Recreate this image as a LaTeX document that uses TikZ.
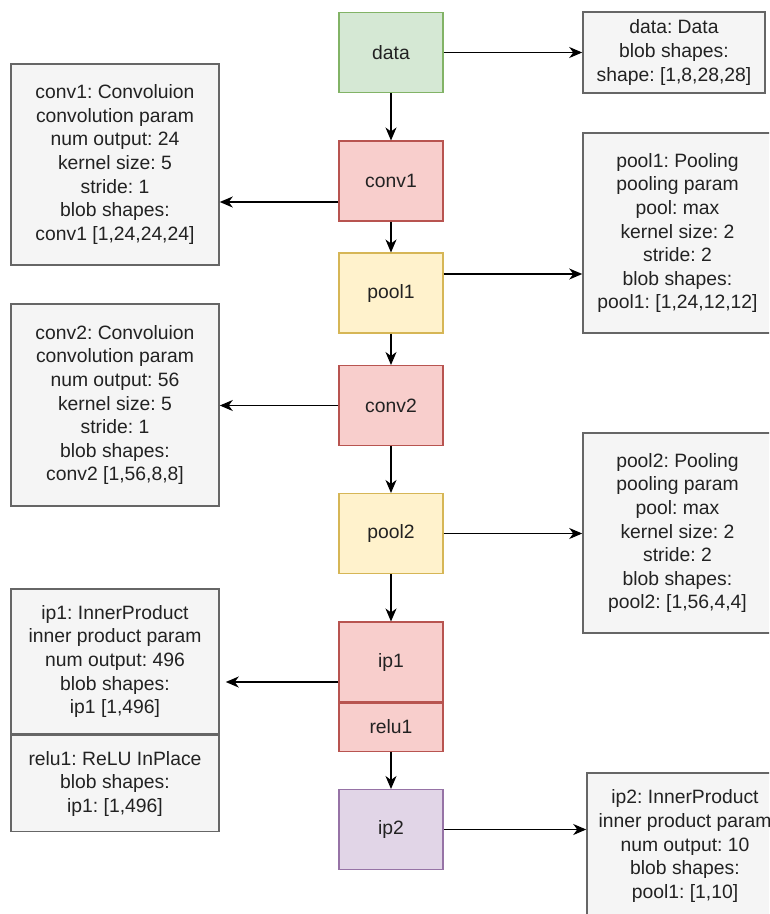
\documentclass[tikz,border=0pt]{standalone}
\usepackage{fontspec}
\setmainfont{Liberation Sans}
\usetikzlibrary{arrows.meta}
\usetikzlibrary{positioning}
\frenchspacing

\definecolor{greenfill}{HTML}{D5E8D4}
\definecolor{greendraw}{HTML}{82B366}
\definecolor{redfill}{HTML}{F8CECC}
\definecolor{reddraw}{HTML}{B85450}
\definecolor{yellowfill}{HTML}{FFF2CC}
\definecolor{yellowdraw}{HTML}{D6B656}
\definecolor{purplefill}{HTML}{E1D5E7}
\definecolor{purpledraw}{HTML}{9673A6}
\definecolor{infofill}{HTML}{F5F5F5}
\definecolor{infodraw}{HTML}{666666}
\definecolor{infotext}{HTML}{222222}

\begin{document}
\begin{tikzpicture}[x=0.02cm,y=-0.02cm,
    font=\fontsize{11}{13.4}\selectfont,
    layer/.style={draw, line width=0.6pt, minimum width=2.08cm, minimum height=1.6cm, inner sep=0pt, text=infotext},
    info/.style={draw=infodraw, fill=infofill, line width=0.9pt, inner sep=0pt, align=center, text=infotext},
    flow/.style={line width=0.7pt, -{Stealth[length=0.26cm,width=0.22cm,inset=0.08cm]}}]
\edef\cx{391}
\edef\lx{115}

\useasboundingbox (0,0) rectangle (769,914);
\clip (0,0) rectangle (769,914);

% the layers
\node[layer, draw=greendraw, fill=greenfill] (data) at (\cx,52.5) {data};
\node[layer, draw=reddraw, fill=redfill] (conv1) at (\cx,181) {conv1};
\node[layer, draw=yellowdraw, fill=yellowfill] (pool1) at (\cx,293) {pool1};
\node[layer, draw=reddraw, fill=redfill] (conv2) at (\cx,405.5) {conv2};
\node[layer, draw=yellowdraw, fill=yellowfill] (pool2) at (\cx,533.5) {pool2};
\node[layer, draw=reddraw, fill=redfill] (ip1) at (\cx,662) {ip1};
\node[layer, draw=reddraw, fill=redfill, minimum height=0.96cm, below=0pt of ip1] (relu1) {relu1};
\node[layer, draw=purpledraw, fill=purplefill] (ip2) at (\cx,829.5) {ip2};

% what each layer holds
\node[info, minimum width=3.64cm, minimum height=1.62cm] (datainfo) at (674,52.5)
{data: Data\\blob shapes:\\shape: [1,8,28,28]};
\node[info, minimum width=4.16cm, minimum height=4.02cm] (conv1info) at (\lx,164.5)
{conv1: Convoluion\\convolution param\\num output: 24\\kernel size: 5\\stride: 1\\blob shapes:\\conv1 [1,24,24,24]};
\node[info, minimum width=3.78cm, minimum height=4cm] (pool1info) at (677.5,233)
{pool1: Pooling\\pooling param\\pool: max\\kernel size: 2\\stride: 2\\blob shapes:\\pool1: [1,24,12,12]};
\node[info, minimum width=4.16cm, minimum height=4.04cm] (conv2info) at (\lx,405)
{conv2: Convoluion\\convolution param\\num output: 56\\kernel size: 5\\stride: 1\\blob shapes:\\conv2 [1,56,8,8]};
\node[info, minimum width=3.78cm, minimum height=4cm] (pool2info) at (677.5,533)
{pool2: Pooling\\pooling param\\pool: max\\kernel size: 2\\stride: 2\\blob shapes:\\pool2: [1,56,4,4]};
\node[info, minimum width=4.16cm, minimum height=2.9cm] (ip1info) at (\lx,661.5)
{ip1: InnerProduct\\inner product param\\num output: 496\\blob shapes:\\ip1 [1,496]};
\node[info, minimum width=4.16cm, minimum height=1.92cm, below=0pt of ip1info] (relu1info)
{relu1: ReLU InPlace\\blob shapes:\\ip1: [1,496]};
\node[info, minimum width=3.92cm, minimum height=2.92cm] (ip2info) at (685,846)
{ip2: InnerProduct\\inner product param\\num output: 10\\blob shapes:\\pool1: [1,10]};

% down the column
\draw[flow] (data) -- (conv1);
\draw[flow] (conv1) -- (pool1);
\draw[flow] (pool1) -- (conv2);
\draw[flow] (conv2) -- (pool2);
\draw[flow] (pool2) -- (ip1);
\draw[flow] (relu1) -- (ip2);

% out to the side boxes
\draw[flow] (data.east) -- (data.east -| datainfo.west);
\draw[flow] (conv1.west |- 0,202) -- (conv1info.east |- 0,202);
\draw[flow] (pool1.east |- 0,274) -- (pool1info.west |- 0,274);
\draw[flow] (conv2.west) -- (conv2.west -| conv2info.east);
\draw[flow] (pool2.east) -- (pool2.east -| pool2info.west);
\draw[flow, shorten >=0.12cm] (ip1.west |- 0,682) -- (ip1info.east |- 0,682);
\draw[flow] (ip2.east) -- (ip2.east -| ip2info.west);
\end{tikzpicture}
\end{document}
